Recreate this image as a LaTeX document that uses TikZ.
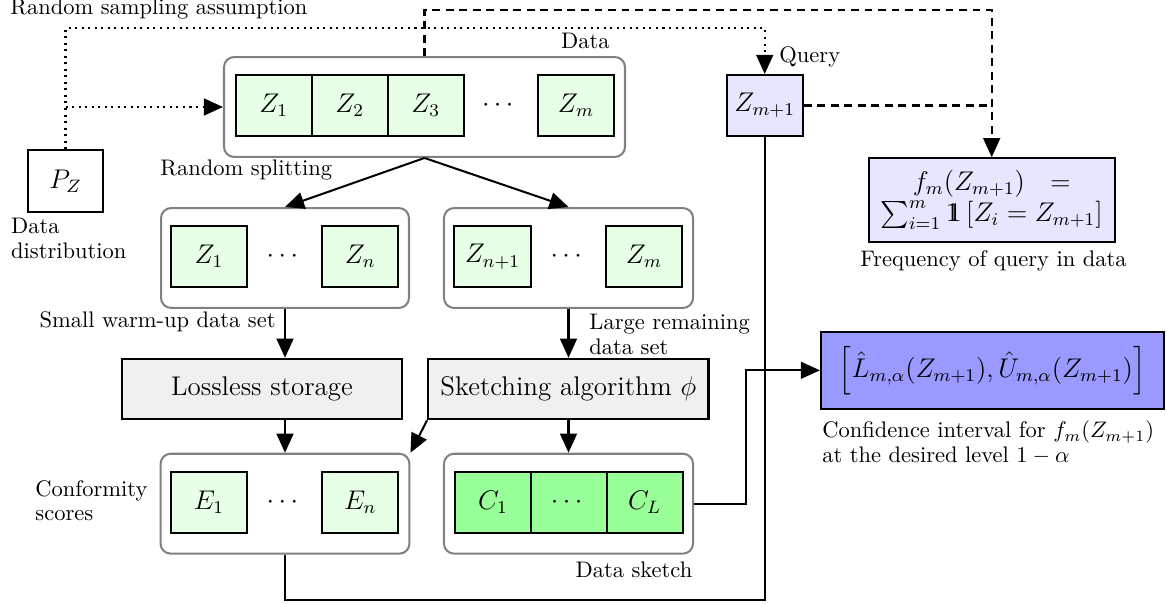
\documentclass[tikz,border=0pt]{standalone}
\usepackage{amsmath,amssymb}
\usetikzlibrary{arrows.meta,calc}
\definecolor{cellg}{HTML}{E6FFE6}
\definecolor{cellG}{HTML}{99FF99}
\definecolor{qfill}{HTML}{E6E6FF}
\definecolor{cifill}{HTML}{9999FF}
\definecolor{procfill}{HTML}{F0F0F0}
\definecolor{framegray}{HTML}{808080}
\newcommand{\indicone}{\mathrm{1}\mkern-7mu\mathrm{1}}
\begin{document}
\begin{tikzpicture}[x=0.4444pt,y=-0.4444pt,
  cell/.style={draw,line width=0.9pt,fill=cellg,minimum width=33.8pt,minimum height=27pt,inner sep=0pt,font=\large},
  darkcell/.style={cell,fill=cellG},
  dotsnode/.style={inner sep=0pt,font=\large},
  outer/.style={draw=framegray,line width=0.9pt,rounded corners=4.5pt,inner sep=0pt,minimum width=#1,minimum height=44.4pt},
  proc/.style={draw,line width=0.9pt,fill=procfill,inner sep=0pt,minimum width=124.6pt,minimum height=26.9pt,font=\large},
  lbl/.style={inner sep=0pt,font=\normalsize},
  mlbl/.style={inner sep=0pt,align=left,font=\fontsize{10}{11}\selectfont},
  arr/.style={line width=0.9pt,-{Triangle[length=8.5pt,width=7.5pt]}},
  plain/.style={line width=0.9pt},
  dotline/.style={line width=0.9pt,dotted},
  dashline/.style={line width=0.9pt,dash pattern=on 3.5pt off 2.5pt}
]
\useasboundingbox (0,0) rectangle (1167,604);

% coordinates for connector routing
\coordinate (rsa) at (0,28.3);
\coordinate (dtop) at (0,10);
\coordinate (bot) at (0,600.3);
\coordinate (bend) at (746,0);

% top: data
\node[outer=178.2pt] (data) at (424.5,107) {};
\node[cell] (z1) at (273.7,105.5) {$Z_1$};
\node[cell] (z2) at (349.7,105.5) {$Z_2$};
\node[cell] (z3) at (425.7,105.5) {$Z_3$};
\node[dotsnode] (zd) at (500,105.5) {$\cdots$};
\node[cell] (zm) at (576,105.5) {$Z_m$};
\node[lbl,anchor=base east] (datalbl) at (610,48.3) {Data};

% distribution
\node[draw,line width=0.9pt,fill=white,minimum width=33.6pt,minimum height=27.4pt,inner sep=0pt,font=\large] (pz) at (65.5,181) {$P_Z$};
\node[mlbl,anchor=north west] (pzlbl) at (10.7,218) {Data\\distribution};
\node[lbl,anchor=base west] (rsalbl) at (10,15) {Random sampling assumption};

% query
\node[draw,line width=0.9pt,fill=qfill,minimum width=33.8pt,minimum height=27.1pt,inner sep=0pt,font=\large] (query) at (764.7,105.5) {$Z_{m+1}$};
\node[lbl,anchor=base west] (qlbl) at (779,63) {Query};

% frequency
\node[draw,line width=0.9pt,fill=qfill,minimum width=109.3pt,minimum height=37.1pt,inner sep=0pt,align=center,font=\large] (freq) at (991.7,200)
  {$f_m(Z_{m+1})\ \ =$\\$\sum_{i=1}^{m}\indicone\left[Z_i=Z_{m+1}\right]$};
\node[lbl,anchor=base] (freqlbl) at (993.5,266.7) {Frequency of query in data};

% split
\node[lbl,anchor=base west] (splitlbl) at (160,176) {Random splitting};
\node[outer=110.2pt] (left) at (285,258) {};
\node[cell] (l1) at (209,256.7) {$Z_1$};
\node[dotsnode] (ld) at (284.7,256.7) {$\cdots$};
\node[cell] (ln) at (360.3,256.7) {$Z_n$};
\node[outer=110.7pt] (right) at (568.5,258) {};
\node[cell] (r1) at (492.5,256.7) {$Z_{n+1}$};
\node[dotsnode] (rd) at (568.5,256.7) {$\cdots$};
\node[cell] (rm) at (644,256.7) {$Z_m$};

\node[lbl,anchor=base east] (smalllbl) at (276,327) {Small warm-up data set};
\node[mlbl,anchor=north west] (largelbl) at (589,314) {Large remaining\\data set};

% processing
\node[proc] (lossless) at (262,389) {Lossless storage};
\node[proc] (sketch) at (568.3,389) {Sketching algorithm $\phi$};

% bottom boxes
\node[outer=110.6pt] (ebox) at (285,503.7) {};
\node[cell] (e1) at (209,502.4) {$E_1$};
\node[dotsnode] (ed) at (284.7,502.4) {$\cdots$};
\node[cell] (en) at (360.3,502.4) {$E_n$};
\node[mlbl,anchor=north west] (conflbl) at (35,479.7) {Conformity\\scores};

\node[outer=110.7pt] (cbox) at (568.5,503.7) {};
\node[darkcell] (c1) at (493,502.7) {$C_1$};
\node[darkcell] (cd) at (568.8,502.7) {$\cdots$};
\node[darkcell] (cl) at (644.6,502.7) {$C_L$};
\node[lbl,anchor=base east] (sketchlbl) at (692.7,577) {Data sketch};

% confidence interval
\node[draw,line width=0.9pt,fill=cifill,minimum width=152.3pt,minimum height=34.1pt,inner sep=0pt,font=\large] (ci) at (992.3,370.3)
  {$\left[\hat{L}_{m,\alpha}(Z_{m+1}),\hat{U}_{m,\alpha}(Z_{m+1})\right]$};
\node[mlbl,anchor=north west] (cilbl) at (822,420.5) {Confidence interval for $f_m(Z_{m+1})$\\at the desired level $1-\alpha$};

% connectors
\draw[dotline,-{Triangle[length=8.5pt,width=7.5pt]}] (pz.north) |- (pz.north |- rsa) -| (query.north);
\draw[dotline,-{Triangle[length=8.5pt,width=7.5pt]}] (pz.north |- data.west) -- (data.west);
\draw[dashline,-{Triangle[length=8.5pt,width=7.5pt]}] (data.north) -- (data.north |- dtop) -| (freq.north);
\draw[dashline] (query.east) -- (query.east -| freq.north);

\draw[arr] (data.south) -- (left.north);
\draw[arr] (data.south) -- (right.north);
\draw[arr] (left.south) -- (left.south |- lossless.north);
\draw[arr] (right.south) -- (right.south |- sketch.north);
\draw[arr] (ebox.north |- lossless.south) -- (ebox.north);
\draw[arr] (cbox.north |- sketch.south) -- (cbox.north);
\draw[arr] (sketch.south west) -- (ebox.north east);
\draw[arr] (cbox.east) -| (bend |- ci.west) -- (ci.west);
\draw[plain] (ebox.south) -- (ebox.south |- bot) -| (query.south);
\end{tikzpicture}
\end{document}
